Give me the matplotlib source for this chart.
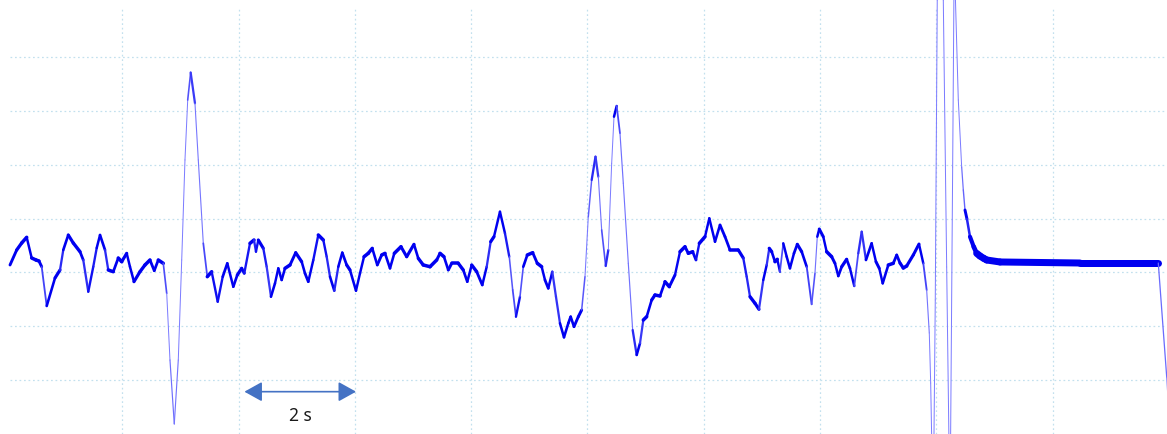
import numpy as np
import matplotlib
matplotlib.use("Agg")
import matplotlib.pyplot as plt
from matplotlib.collections import LineCollection
from matplotlib.patches import FancyArrowPatch
from matplotlib.colors import to_rgb

# Recorded trace: time in seconds, amplitude in screen divisions
time_s = [
    0.069, 0.184, 0.270, 0.356, 0.442, 0.516, 0.567, 0.614, 0.700, 0.843,
    0.929, 0.985, 1.071, 1.157, 1.273, 1.329, 1.415, 1.501, 1.560, 1.617,
    1.703, 1.759, 1.845, 1.931, 1.990, 2.076, 2.132, 2.201, 2.304, 2.390,
    2.476, 2.550, 2.619, 2.705, 2.764, 2.820, 2.894, 2.963, 3.022, 3.078,
    3.125, 3.176, 3.250, 3.307, 3.393, 3.462, 3.537, 3.641, 3.727, 3.806,
    3.909, 3.978, 4.053, 4.098, 4.196, 4.265, 4.299, 4.339, 4.425, 4.483,
    4.557, 4.626, 4.683, 4.741, 4.798, 4.884, 4.982, 5.085, 5.142, 5.199,
    5.285, 5.371, 5.457, 5.515, 5.572, 5.646, 5.715, 5.783, 5.859, 5.916,
    6.019, 6.088, 6.157, 6.230, 6.299, 6.385, 6.461, 6.518, 6.604, 6.678,
    6.793, 6.891, 7.016, 7.090, 7.176, 7.292, 7.407, 7.464, 7.532, 7.606,
    7.665, 7.778, 7.864, 7.933, 8.009, 8.095, 8.191, 8.267, 8.335, 8.392,
    8.495, 8.581, 8.655, 8.714, 8.770, 8.839, 8.896, 8.965, 9.058, 9.137,
    9.212, 9.269, 9.326, 9.395, 9.458, 9.527, 9.596, 9.670, 9.711, 9.768,
    9.842, 9.900, 9.957, 10.014, 10.072, 10.138, 10.186, 10.244, 10.313, 10.358,
    10.416, 10.456, 10.502, 10.559, 10.616, 10.702, 10.777, 10.846, 10.903, 10.960,
    11.018, 11.104, 11.161, 11.247, 11.333, 11.407, 11.505, 11.591, 11.677, 11.734,
    11.809, 11.866, 11.923, 12.021, 12.095, 12.193, 12.279, 12.365, 12.451, 12.594,
    12.679, 12.738, 12.795, 12.881, 12.949, 13.023, 13.082, 13.126, 13.168, 13.225,
    13.264, 13.310, 13.367, 13.426, 13.482, 13.551, 13.608, 13.684, 13.770, 13.855,
    13.912, 13.952, 13.986, 14.055, 14.113, 14.199, 14.256, 14.313, 14.372, 14.457,
    14.514, 14.588, 14.657, 14.716, 14.789, 14.887, 14.961, 15.018, 15.077, 15.173,
    15.259, 15.318, 15.374, 15.431, 15.489, 15.603, 15.701, 15.775, 15.833, 15.878,
    15.902, 15.945, 15.981, 16.015, 16.067, 16.119, 16.177, 16.234, 16.280, 16.306,
    16.328, 16.377, 16.435, 16.463, 16.492, 16.526, 16.578, 16.642, 16.693, 16.750,
    16.814, 16.865, 17.094, 18.470, 19.816, 19.961, 20.000,
]
amp_div = [
    0.136, 0.415, 0.545, 0.651, 0.266, 0.229, 0.210, 0.104, -0.627, -0.106,
    0.043, 0.415, 0.694, 0.545, 0.383, 0.229, -0.361, 0.104, 0.452, 0.694,
    0.415, 0.043, 0.011, 0.266, 0.197, 0.353, 0.104, -0.175, 0.011, 0.136,
    0.229, 0.030, 0.229, 0.167, -0.391, -1.631, -2.821, -1.631, 0.229, 2.089,
    3.204, 3.716, 3.143, 2.089, 0.539, -0.082, 0.011, -0.547, -0.082, 0.167,
    -0.268, -0.050, 0.074, -0.019, 0.539, 0.601, 0.383, 0.601, 0.446, 0.104,
    -0.454, -0.205, 0.074, -0.143, 0.074, 0.136, 0.365, 0.197, -0.019, -0.175,
    0.229, 0.694, 0.601, 0.290, -0.082, -0.342, 0.104, 0.365, 0.136, 0.043,
    -0.342, -0.019, 0.290, 0.353, 0.446, 0.136, 0.322, 0.353, 0.074, 0.353,
    0.476, 0.290, 0.521, 0.260, 0.136, 0.104, 0.229, 0.353, 0.290, 0.043,
    0.167, 0.167, 0.043, -0.175, 0.136, 0.011, -0.236, 0.104, 0.569, 0.662,
    1.127, 0.725, 0.290, -0.329, -0.826, -0.454, 0.104, 0.322, 0.365, 0.167,
    0.104, -0.143, -0.298, 0.011, -0.454, -0.948, -1.209, -0.948, -0.826, -1.012,
    -0.826, -0.701, -0.082, 1.034, 1.717, 2.150, 1.778, 0.787, 0.117, 0.415,
    2.027, 2.894, 3.093, 2.585, 1.655, 0.167, -1.073, -1.538, -1.320, -0.887,
    -0.826, -0.515, -0.422, -0.441, -0.175, -0.268, -0.050, 0.383, 0.476, 0.353,
    0.383, 0.229, 0.539, 0.662, 1.004, 0.569, 0.880, 0.662, 0.415, 0.415,
    0.266, -0.082, -0.454, -0.577, -0.688, -0.143, 0.136, 0.446, 0.383, 0.197,
    0.242, 0.011, 0.539, 0.290, 0.074, 0.353, 0.521, 0.383, 0.104, -0.595,
    -0.019, 0.662, 0.805, 0.662, 0.383, 0.290, 0.167, -0.069, 0.104, 0.242,
    0.074, -0.255, 0.353, 0.755, 0.229, 0.539, 0.197, 0.074, -0.205, 0.136,
    0.167, 0.322, 0.173, 0.080, 0.117, 0.322, 0.526, 0.167, -0.329, -1.129,
    -2.059, -4.607, -0.515, 5.064, 9.714, 5.064, 0.099, -4.607, 1.958, 5.808,
    5.064, 3.204, 1.958, 1.531, 1.159, 0.991, 0.662, 0.476, 0.353, 0.303,
    0.260, 0.229, 0.192, 0.173, 0.173, -1.947, -2.654,
]

# Screen graticule (2 s per division horizontally)
x_grid_s = [2, 4, 6, 8, 10, 12, 14, 16, 18]
y_grid_div = [-2, -1, 0, 1, 2, 3, 4]

# Time scale bar
scale_bar_s = (4.10, 6.02)
scale_bar_level = -2.22
scale_label = "2 s"

x_view = (-0.103, 19.966)
y_view = (-3.007, 5.064)

fig = plt.figure(figsize=(11.67, 4.34), dpi=100)
ax = fig.add_axes([0, 0, 1, 1])
ax.set_xlim(*x_view)
ax.set_ylim(*y_view)
ax.axis("off")

# dotted graticule
grid_kw = dict(color="#c3e0ee", linewidth=0.9, linestyle=(0, (1.4, 2.2)), zorder=1)
ax.hlines(y_grid_div, 0.07, x_view[1], **grid_kw)
ax.vlines(x_grid_s, y_view[0], 4.934, **grid_kw)

# trace: the noisy sweep looks thick where slow, thin and faint where steep
t = np.asarray(time_s)
a = np.asarray(amp_div)
xy = np.column_stack([t, a])
disp = ax.transData.transform(xy)
d = np.diff(disp, axis=0)
flat = np.abs(d[:, 0]) / np.hypot(d[:, 0], d[:, 1])
t_mid = 0.5 * (t[:-1] + t[1:])
quiet = t_mid > 16.3
base_px = np.where(quiet, 1.0, 1.9)
band_px = np.where(quiet, 6.0, 1.6)
width_px = base_px + band_px * np.clip(flat * 1.5, 0, 1)
dpi = fig.dpi
c_fast = np.array(to_rgb("#7c7cff"))
c_slow = np.array(to_rgb("#0000f0"))
mix = np.clip((flat - 0.05) * 6.0, 0, 1)[:, None]
colors = c_fast + (c_slow - c_fast) * mix
width_px = np.where(mix[:, 0] < 0.5, 1.0 + 0.9 * mix[:, 0] * 2, width_px)
segs = np.stack([xy[:-1], xy[1:]], axis=1)
lc = LineCollection(segs, linewidths=width_px * 72 / dpi, colors=colors,
                    capstyle="round", joinstyle="round", zorder=3)
ax.add_collection(lc)

# scale bar
arrow = FancyArrowPatch((scale_bar_s[0], scale_bar_level), (scale_bar_s[1], scale_bar_level),
                        arrowstyle="<|-|>,head_length=0.54,head_width=0.3",
                        mutation_scale=20, color="#4472c4", linewidth=1.2,
                        shrinkA=0, shrinkB=0, zorder=4)
ax.add_patch(arrow)
ax.text(sum(scale_bar_s) / 2, -2.67, scale_label, ha="center", va="center",
        fontsize=12.5, family="Noto Sans", color="#1a1a1a", zorder=4)

fig.savefig("out.png", dpi=100)
